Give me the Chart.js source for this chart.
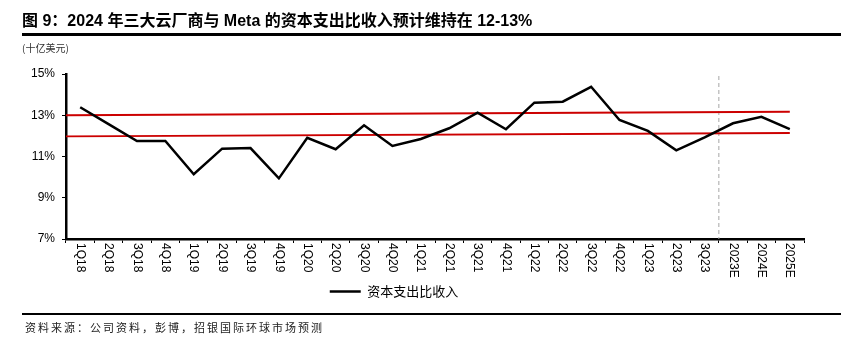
<!DOCTYPE html>
<html>
<head>
<meta charset="utf-8">
<script src="https://cdn.jsdelivr.net/npm/chart.js"></script>
<style>
  html, body { margin: 0; padding: 0; background: #fff; }
  body { width: 841px; height: 341px; position: relative; overflow: hidden; }
  #chartBox { position: absolute; left: -52px; top: 0; width: 893px; height: 341px; }
  .title {
    position: absolute; left: 22px; top: 7px;
    font: bold 16px "Liberation Sans", "Noto Sans CJK SC", sans-serif; color: #000;
    white-space: nowrap;
  }
  .rule-top { position: absolute; left: 22px; right: 0; top: 33px; height: 3px; background: #000; }
  .unit {
    position: absolute; left: 22px; top: 40px;
    font: 10px "Noto Sans CJK SC", sans-serif; color: #333;
  }
  .rule-bottom { position: absolute; left: 22px; right: 0; top: 313px; height: 2px; background: #000; }
  .source {
    position: absolute; left: 25px; top: 319px;
    font: 11px "Noto Sans CJK SC", sans-serif; color: #222; letter-spacing: 2px;
    white-space: nowrap;
  }
</style>
</head>
<body>
<div id="chartBox"><canvas id="capexChart"></canvas></div>
<div class="title">图 9：2024 年三大云厂商与 Meta 的资本支出比收入预计维持在 12-13%</div>
<div class="rule-top"></div>
<div class="unit">(十亿美元)</div>
<div class="rule-bottom"></div>
<div class="source">资料来源：公司资料，彭博，招银国际环球市场预测</div>

<script>
// Categories on the x axis
const categories = ['1Q18', '2Q18', '3Q18', '4Q18', '1Q19', '2Q19', '3Q19', '4Q19',
    '1Q20', '2Q20', '3Q20', '4Q20', '1Q21', '2Q21', '3Q21', '4Q21',
    '1Q22', '2Q22', '3Q22', '4Q22', '1Q23', '2Q23', '3Q23', '2023E', '2024E', '2025E'];

// Capex as % of revenue
const capexRatio = [13.39, 12.57, 11.75, 11.75, 10.14, 11.38, 11.41, 9.94,
    11.91, 11.35, 12.51, 11.51, 11.85, 12.37, 13.12, 12.32,
    13.61, 13.66, 14.38, 12.77, 12.24, 11.30, 11.93, 12.61, 12.92, 12.33];

// Red reference band (start value, end value)
const bandUpper = [13.0, 13.17];
const bandLower = [11.98, 12.14];

// Forecast starts at this category
const forecastStart = '2023E';

// Y axis ticks
const yTicks = [7, 9, 11, 13, 15];

const seriesLabel = '资本支出比收入';

// Red lines + dashed forecast divider, drawn through the chart scales
const bandPlugin = {
    id: 'bandPlugin',
    beforeDatasetsDraw(chart) {
        const ctx = chart.ctx;
        const x = chart.scales.x;
        const y = chart.scales.y;
        const area = chart.chartArea;
        const xEnd = x.getPixelForValue(categories.length - 1);

        ctx.save();
        // dashed divider between actuals and estimates
        const idx = categories.indexOf(forecastStart);
        const xDiv = (x.getPixelForValue(idx - 1) + x.getPixelForValue(idx)) / 2;
        ctx.strokeStyle = '#a6a6a6';
        ctx.lineWidth = 1;
        ctx.setLineDash([4, 3]);
        ctx.beginPath();
        ctx.moveTo(xDiv, area.top + 2);
        ctx.lineTo(xDiv, area.bottom);
        ctx.stroke();

        ctx.setLineDash([]);
        ctx.strokeStyle = '#cc0000';
        ctx.lineWidth = 1.8;
        [bandUpper, bandLower].forEach(function(b) {
            ctx.beginPath();
            ctx.moveTo(area.left, y.getPixelForValue(b[0]));
            ctx.lineTo(xEnd, y.getPixelForValue(b[1]));
            ctx.stroke();
        });
        ctx.restore();
    }
};

// X labels read top-to-bottom, so draw them rotated clockwise
const xLabelPlugin = {
    id: 'xLabelPlugin',
    afterDraw(chart) {
        const ctx = chart.ctx;
        const x = chart.scales.x;
        ctx.save();
        ctx.font = '12px "Liberation Sans", Arial, sans-serif';
        ctx.fillStyle = '#000';
        ctx.textAlign = 'left';
        ctx.textBaseline = 'middle';
        categories.forEach(function(label, i) {
            ctx.save();
            ctx.translate(x.getPixelForTick(i), chart.chartArea.bottom + 4);
            ctx.rotate(Math.PI / 2);
            ctx.fillText(label, 0, 0);
            ctx.restore();
        });
        ctx.restore();
    }
};

function initializeCapexChart() {
    const ctx = document.getElementById('capexChart');
    if (!ctx) return;

    new Chart(ctx, {
        type: 'line',
        data: {
            labels: categories,
            datasets: [{
                label: seriesLabel,
                data: capexRatio,
                borderColor: '#000',
                backgroundColor: '#000',
                borderWidth: 2.5,
                pointRadius: 0,
                pointStyle: 'line',
                tension: 0
            }]
        },
        options: {
            responsive: true,
            maintainAspectRatio: false,
            animation: false,
            layout: {
                padding: { left: 36, right: 37, top: 74, bottom: 33 }
            },
            plugins: {
                legend: {
                    position: 'bottom',
                    labels: {
                        usePointStyle: true,
                        pointStyleWidth: 31,
                        color: '#000',
                        font: { family: '"Noto Sans CJK SC", sans-serif', size: 13 },
                        padding: 10
                    }
                },
                tooltip: { enabled: false }
            },
            scales: {
                x: {
                    offset: true,
                    grid: {
                        offset: true,
                        drawOnChartArea: false,
                        drawTicks: true,
                        tickLength: 4,
                        color: '#000',
                        lineWidth: 1
                    },
                    border: { color: '#000', width: 2.5 },
                    ticks: {
                        autoSkip: false,
                        minRotation: 90,
                        maxRotation: 90,
                        color: 'rgba(0,0,0,0)',
                        font: { family: '"Liberation Sans", Arial, sans-serif', size: 12 }
                    },
                    afterFit: function(scale) { scale.height = 36; }
                },
                y: {
                    min: yTicks[0],
                    max: yTicks[yTicks.length - 1],
                    afterBuildTicks: function(scale) {
                        scale.ticks = yTicks.map(function(v) { return { value: v }; });
                    },
                    grid: {
                        drawOnChartArea: false,
                        tickLength: 4,
                        color: '#000',
                        lineWidth: 1
                    },
                    border: { color: '#000', width: 2.5 },
                    ticks: {
                        color: '#000',
                        padding: 7,
                        font: { family: '"Liberation Sans", Arial, sans-serif', size: 12 },
                        callback: function(value) { return value + '%'; }
                    },
                    afterFit: function(scale) { scale.width = 82; }
                }
            }
        },
        plugins: [bandPlugin, xLabelPlugin]
    });
}

document.addEventListener('DOMContentLoaded', function() {
    initializeCapexChart();
});
</script>
</body>
</html>
